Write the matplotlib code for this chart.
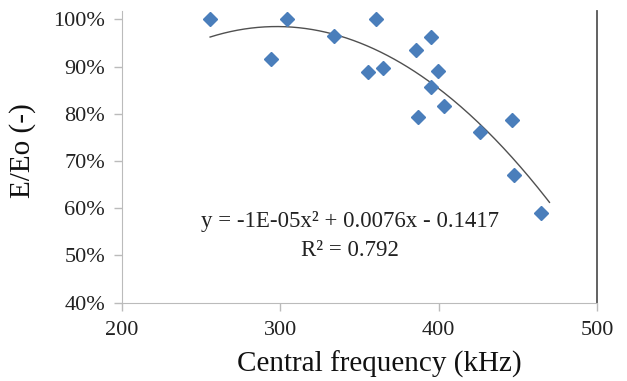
import numpy as np
import matplotlib
matplotlib.use("Agg")
import matplotlib.pyplot as plt
from matplotlib.ticker import FuncFormatter

# Data
freq_khz = [255.8, 294.3, 304.2, 333.7, 355.4, 360.2, 365.2, 385.9, 387.3,
            395.4, 395.2, 399.6, 403.2, 425.9, 446.3, 447.8, 464.6]
e_ratio = [1.000, 0.9165, 1.000, 0.965, 0.889, 1.000, 0.8975, 0.935, 0.794,
           0.963, 0.857, 0.8905, 0.816, 0.762, 0.787, 0.670, 0.589]
trend_end = 470
x_ticks = [200, 300, 400, 500]
y_ticks = [0.4, 0.5, 0.6, 0.7, 0.8, 0.9, 1.0]
eq_line1 = "y = -1E-05x² + 0.0076x - 0.1417"
eq_line2 = "R² = 0.792"

plt.rcParams['font.family'] = ['Liberation Serif', 'DejaVu Serif']

fig = plt.figure(figsize=(6.27, 3.81), dpi=100)
ax = fig.add_axes([121.7 / 627, 1 - 302.7 / 381, (597 - 121.7) / 627, (302.7 - 11) / 381])

ax.plot(freq_khz, e_ratio, linestyle='none', marker='D', markersize=7.5,
        color='#4A7EBB', clip_on=False, zorder=3)

coef = np.polyfit(freq_khz, e_ratio, 2)
xs = np.linspace(min(freq_khz), trend_end, 200)
ax.plot(xs, np.polyval(coef, xs), color='#505050', linewidth=1.0, zorder=2)

ax.set_xlim(200, 500)
ax.set_ylim(0.4, 1.0175)
ax.set_xticks(x_ticks)
ax.set_yticks(y_ticks)
ax.yaxis.set_major_formatter(FuncFormatter(lambda v, p: f"{v*100:.0f}%"))

ax.spines['top'].set_visible(False)
ax.spines['left'].set_color('#BBBBBB')
ax.spines['bottom'].set_color('#BBBBBB')
ax.spines['right'].set_color('#555555')
ax.spines['right'].set_linewidth(1.3)
ax.tick_params(axis='both', direction='out', length=6, width=1, color='#BBBBBB',
               labelsize=16, labelcolor='#222222')
ax.tick_params(axis='y', pad=6)
ax.tick_params(axis='x', pad=7)

ax.set_xlabel("Central frequency (kHz)", fontsize=21, color='#111111')
ax.xaxis.set_label_coords(0.543, -0.165)
ax.set_ylabel("E/Eo (-)", fontsize=21, color='#111111')
ax.yaxis.set_label_coords(-0.18, 0.523)

ax.text(0.48, 0.277, eq_line1, transform=ax.transAxes, ha='center', va='center',
        fontsize=16.5, color='#222222')
ax.text(0.48, 0.18, eq_line2, transform=ax.transAxes, ha='center', va='center',
        fontsize=16.5, color='#222222')

fig.savefig("out.png", dpi=100)
